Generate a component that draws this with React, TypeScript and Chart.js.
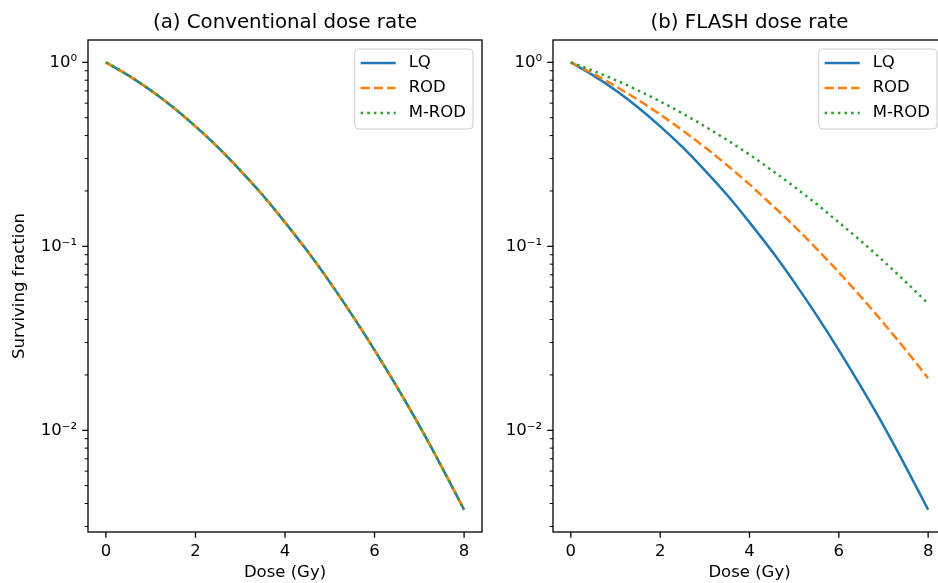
import React, { useEffect, useRef } from "react";
import { Chart, registerables } from "chart.js";

Chart.register(...registerables);

// ---------- data ----------
const doses = [0, 0.5, 1, 1.5, 2, 2.5, 3, 3.5, 4, 4.5, 5, 5.5, 6, 6.5, 7, 7.5, 8];

const convLQ = [1, 0.85, 0.705, 0.57, 0.449, 0.346, 0.259, 0.19, 0.135, 0.0942, 0.0639, 0.0423, 0.0273, 0.0172, 0.0106, 0.00633, 0.0037];
const convROD = [1, 0.85, 0.705, 0.57, 0.449, 0.346, 0.259, 0.19, 0.135, 0.0942, 0.0639, 0.0423, 0.0273, 0.0172, 0.0106, 0.00633, 0.0037];
const convMROD = [1, 0.85, 0.705, 0.57, 0.449, 0.346, 0.259, 0.19, 0.135, 0.0942, 0.0639, 0.0423, 0.0273, 0.0172, 0.0106, 0.00633, 0.0037];

const flashLQ = [1, 0.85, 0.705, 0.57, 0.449, 0.346, 0.259, 0.19, 0.135, 0.0942, 0.0639, 0.0423, 0.0273, 0.0172, 0.0106, 0.00633, 0.0037];
const flashROD = [1, 0.868, 0.742, 0.626, 0.521, 0.427, 0.346, 0.276, 0.217, 0.168, 0.129, 0.0971, 0.0722, 0.053, 0.0383, 0.0273, 0.0192];
const flashMROD = [1, 0.9, 0.801, 0.705, 0.613, 0.528, 0.449, 0.378, 0.315, 0.259, 0.211, 0.17, 0.135, 0.1066, 0.0831, 0.064, 0.0488];

const seriesNames = ["LQ", "ROD", "M-ROD"];
const seriesColors = ["#1f77b4", "#ff7f0e", "#2ca02c"];
const panelTitles = ["(a) Conventional dose rate", "(b) FLASH dose rate"];
const xTicks = [0, 2, 4, 6, 8];
const yMajorTicks = [0.01, 0.1, 1];
const yMajorLabels = ["10\u207B\u00B2", "10\u207B\u00B9", "10\u2070"];
const xLabel = "Dose (Gy)";
const yLabel = "Surviving fraction";

// ---------- styling ----------
const FONT = '"DejaVu Sans", "Liberation Sans", sans-serif';
const TICK_FS = 16.5;
const TITLE_FS = 19.8;
const X_MIN = -0.4;
const X_MAX = 8.4;
const Y_MIN = 0.0028;
const Y_MAX = 1.323;
const H = 583;
const seriesDashes: number[][] = [[], [9.2, 4], [2.5, 4.1]];

const yMinorTicks: number[] = [];
for (let k = -3; k <= 0; k++) {
  for (let m = 2; m <= 9; m++) {
    const v = Number((m * Math.pow(10, k)).toPrecision(6));
    if (v >= Y_MIN && v <= Y_MAX) yMinorTicks.push(v);
  }
}
const yAllTicks = [...yMinorTicks, ...yMajorTicks].sort((a, b) => a - b);

function makeDecor(title: string) {
  return {
    id: "decor",
    afterDraw(chart: any) {
      const { ctx, chartArea: a, scales } = chart;
      const xs = scales.x;
      const ys = scales.y;
      ctx.save();
      ctx.strokeStyle = "#000";
      ctx.lineWidth = 1.3;
      // ticks x
      ctx.beginPath();
      xTicks.forEach((v) => {
        const px = xs.getPixelForValue(v);
        ctx.moveTo(px, a.bottom);
        ctx.lineTo(px, a.bottom + 5.8);
      });
      yMajorTicks.forEach((v) => {
        const py = ys.getPixelForValue(v);
        ctx.moveTo(a.left, py);
        ctx.lineTo(a.left - 5.8, py);
      });
      ctx.stroke();
      ctx.beginPath();
      ctx.lineWidth = 1.0;
      yMinorTicks.forEach((v) => {
        const py = ys.getPixelForValue(v);
        ctx.moveTo(a.left, py);
        ctx.lineTo(a.left - 3.3, py);
      });
      ctx.stroke();
      // frame
      ctx.lineWidth = 1.3;
      ctx.strokeRect(a.left, a.top, a.right - a.left, a.bottom - a.top);
      // title
      ctx.fillStyle = "#000";
      ctx.font = `${TITLE_FS}px ${FONT}`;
      ctx.textAlign = "center";
      ctx.textBaseline = "middle";
      ctx.fillText(title, (a.left + a.right) / 2, 23);
      // legend
      ctx.font = `${TICK_FS}px ${FONT}`;
      let maxW = 0;
      seriesNames.forEach((n) => {
        maxW = Math.max(maxW, ctx.measureText(n).width);
      });
      const boxW = 54 + maxW + 7;
      const boxH = 80;
      const bx = a.right - 9 - boxW;
      const by = a.top + 9;
      ctx.beginPath();
      ctx.roundRect(bx, by, boxW, boxH, 4);
      ctx.fillStyle = "rgba(255,255,255,0.8)";
      ctx.fill();
      ctx.strokeStyle = "#cccccc";
      ctx.lineWidth = 1;
      ctx.stroke();
      seriesNames.forEach((n, i) => {
        const ry = by + 14 + i * 25;
        ctx.beginPath();
        ctx.strokeStyle = seriesColors[i];
        ctx.lineWidth = 2.5;
        ctx.lineCap = "butt";
        ctx.setLineDash(seriesDashes[i]);
        ctx.moveTo(bx + 6, ry);
        ctx.lineTo(bx + 41, ry);
        ctx.stroke();
        ctx.setLineDash([]);
        ctx.fillStyle = "#000";
        ctx.textAlign = "left";
        ctx.textBaseline = "middle";
        ctx.fillText(n, bx + 54, ry);
      });
      ctx.restore();
    },
  };
}

type PanelProps = {
  left: number;
  width: number;
  plotLeft: number;
  plotRight: number;
  title: string;
  values: number[][];
  showYTitle: boolean;
};

function Panel({ left, width, plotLeft, plotRight, title, values, showYTitle }: PanelProps) {
  const ref = useRef<HTMLCanvasElement>(null);
  useEffect(() => {
    const chart = new Chart(ref.current as HTMLCanvasElement, {
      type: "line",
      data: {
        datasets: values.map((arr, i) => ({
          label: seriesNames[i],
          data: doses.map((d, j) => ({ x: d, y: arr[j] })),
          borderColor: seriesColors[i],
          backgroundColor: seriesColors[i],
          borderWidth: 2.5,
          borderDash: seriesDashes[i],
          borderCapStyle: "butt",
          pointRadius: 0,
          fill: false,
          cubicInterpolationMode: "monotone",
          order: 2 - i,
        })),
      },
      options: {
        responsive: false,
        animation: false,
        devicePixelRatio: 1,
        layout: { padding: { top: 40, left: 0, right: width - plotRight, bottom: 0 } },
        plugins: {
          legend: { display: false },
          title: { display: false },
          tooltip: { enabled: false },
        },
        scales: {
          x: {
            type: "linear",
            min: X_MIN,
            max: X_MAX,
            afterBuildTicks: (s: any) => {
              s.ticks = xTicks.map((v) => ({ value: v }));
            },
            afterFit: (s: any) => {
              s.height = H - 532;
            },
            ticks: {
              autoSkip: false,
              maxRotation: 0,
              padding: 4,
              color: "#000",
              font: { family: FONT, size: TICK_FS },
              callback: (v: any) => String(v),
            },
            grid: { display: true, drawOnChartArea: false, drawTicks: true, tickLength: 6, color: "rgba(0,0,0,0)" },
            border: { display: false },
            title: {
              display: true,
              text: xLabel,
              color: "#000",
              font: { family: FONT, size: TICK_FS },
              padding: { top: 0, bottom: 0 },
            },
          },
          y: {
            type: "logarithmic",
            min: Y_MIN,
            max: Y_MAX,
            afterBuildTicks: (s: any) => {
              s.ticks = yAllTicks.map((v) => ({ value: v }));
            },
            afterFit: (s: any) => {
              s.width = plotLeft;
            },
            ticks: {
              autoSkip: false,
              padding: 5,
              color: "#000",
              font: { family: FONT, size: TICK_FS },
              callback: (v: any) => {
                const idx = yMajorTicks.findIndex((m) => Math.abs(m - Number(v)) < m * 1e-6);
                return idx >= 0 ? yMajorLabels[idx] : "";
              },
            },
            grid: { display: true, drawOnChartArea: false, drawTicks: true, tickLength: 6, color: "rgba(0,0,0,0)" },
            border: { display: false },
            title: {
              display: showYTitle,
              text: yLabel,
              color: "#000",
              font: { family: FONT, size: TICK_FS },
              padding: { top: 10, bottom: 0 },
            },
          },
        },
      },
      plugins: [makeDecor(title)],
    } as any);
    return () => chart.destroy();
  }, []);
  return (
    <canvas
      ref={ref}
      width={width}
      height={H}
      style={{ position: "absolute", left, top: 0, width, height: H }}
    />
  );
}

export default function App() {
  return (
    <div
      style={{
        position: "fixed",
        left: 0,
        top: 0,
        width: 938,
        height: H,
        overflow: "hidden",
        background: "#fff",
      }}
    >
      <Panel
        left={0}
        width={490}
        plotLeft={88}
        plotRight={482}
        title={panelTitles[0]}
        values={[convLQ, convROD, convMROD]}
        showYTitle={true}
      />
      <Panel
        left={490}
        width={460}
        plotLeft={63}
        plotRight={456}
        title={panelTitles[1]}
        values={[flashLQ, flashROD, flashMROD]}
        showYTitle={false}
      />
    </div>
  );
}
